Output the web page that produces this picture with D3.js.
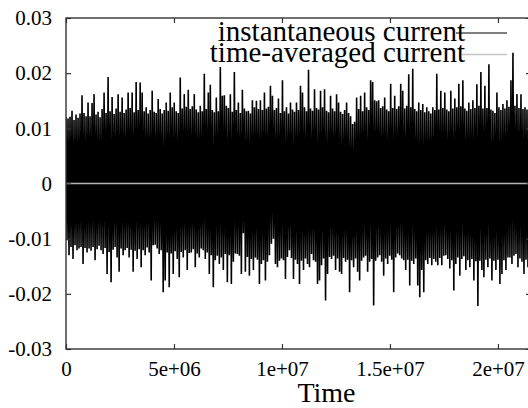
<!DOCTYPE html>
<html>
<head>
<meta charset="utf-8">
<script src="https://cdn.jsdelivr.net/npm/d3@7"></script>
<style>
  html, body { margin: 0; padding: 0; background: #fff; }
  svg { display: block; overflow: hidden; }
  svg text { font-family: "Liberation Serif", "DejaVu Serif", serif; fill: #000; }
</style>
</head>
<body>
<div id="chart"></div>
<script>
// Instantaneous current: upper and lower swing of each sample
var currentHigh = [
  0.0120, 0.0118, 0.0121, 0.0132, 0.0115, 0.0125, 0.0119, 0.0127, 0.0160, 0.0128, 0.0122, 0.0147,
  0.0122, 0.0146, 0.0162, 0.0125, 0.0130, 0.0120, 0.0135, 0.0165, 0.0128, 0.0193, 0.0131, 0.0157,
  0.0126, 0.0136, 0.0162, 0.0130, 0.0156, 0.0128, 0.0134, 0.0165, 0.0137, 0.0165, 0.0129, 0.0184,
  0.0133, 0.0183, 0.0165, 0.0131, 0.0138, 0.0127, 0.0133, 0.0168, 0.0130, 0.0128, 0.0153, 0.0135,
  0.0127, 0.0133, 0.0147, 0.0132, 0.0165, 0.0138, 0.0147, 0.0131, 0.0128, 0.0192, 0.0136, 0.0162,
  0.0139, 0.0170, 0.0135, 0.0140, 0.0162, 0.0134, 0.0129, 0.0141, 0.0131, 0.0199, 0.0135, 0.0165,
  0.0179, 0.0133, 0.0129, 0.0156, 0.0131, 0.0211, 0.0159, 0.0160, 0.0141, 0.0137, 0.0162, 0.0130,
  0.0202, 0.0133, 0.0147, 0.0128, 0.0170, 0.0136, 0.0131, 0.0132, 0.0127, 0.0151, 0.0138, 0.0150,
  0.0135, 0.0151, 0.0133, 0.0165, 0.0136, 0.0139, 0.0177, 0.0159, 0.0133, 0.0137, 0.0154, 0.0128,
  0.0187, 0.0131, 0.0138, 0.0127, 0.0147, 0.0134, 0.0130, 0.0147, 0.0133, 0.0177, 0.0165, 0.0138,
  0.0131, 0.0206, 0.0136, 0.0132, 0.0171, 0.0137, 0.0134, 0.0168, 0.0138, 0.0171, 0.0132, 0.0129,
  0.0159, 0.0136, 0.0131, 0.0162, 0.0147, 0.0130, 0.0126, 0.0133, 0.0147, 0.0128, 0.0122, 0.0108,
  0.0112, 0.0156, 0.0135, 0.0159, 0.0131, 0.0165, 0.0138, 0.0133, 0.0187, 0.0184, 0.0151, 0.0149,
  0.0151, 0.0137, 0.0140, 0.0156, 0.0134, 0.0131, 0.0181, 0.0137, 0.0159, 0.0135, 0.0140, 0.0181,
  0.0168, 0.0136, 0.0141, 0.0198, 0.0138, 0.0208, 0.0135, 0.0131, 0.0147, 0.0133, 0.0144, 0.0129,
  0.0138, 0.0131, 0.0127, 0.0138, 0.0133, 0.0199, 0.0134, 0.0168, 0.0137, 0.0165, 0.0134, 0.0131,
  0.0168, 0.0136, 0.0154, 0.0138, 0.0181, 0.0140, 0.0187, 0.0136, 0.0132, 0.0147, 0.0135, 0.0151,
  0.0137, 0.0180, 0.0141, 0.0202, 0.0136, 0.0177, 0.0137, 0.0216, 0.0134, 0.0132, 0.0128, 0.0165,
  0.0138, 0.0133, 0.0144, 0.0136, 0.0151, 0.0139, 0.0187, 0.0237, 0.0141, 0.0162, 0.0137, 0.0162,
  0.0135, 0.0138, 0.0134, 0.0137
];
var currentLow = [
  -0.0103, -0.0130, -0.0115, -0.0137, -0.0112, -0.0121, -0.0118, -0.0115, -0.0146, -0.0117, -0.0125, -0.0118,
  -0.0122, -0.0115, -0.0139, -0.0119, -0.0113, -0.0121, -0.0128, -0.0117, -0.0164, -0.0124, -0.0179, -0.0120,
  -0.0115, -0.0134, -0.0160, -0.0118, -0.0130, -0.0121, -0.0117, -0.0134, -0.0120, -0.0160, -0.0122, -0.0137,
  -0.0119, -0.0152, -0.0121, -0.0130, -0.0116, -0.0125, -0.0176, -0.0112, -0.0111, -0.0118, -0.0128, -0.0121,
  -0.0197, -0.0176, -0.0125, -0.0188, -0.0127, -0.0164, -0.0123, -0.0137, -0.0170, -0.0124, -0.0134, -0.0121,
  -0.0157, -0.0126, -0.0125, -0.0119, -0.0152, -0.0127, -0.0134, -0.0118, -0.0121, -0.0137, -0.0125, -0.0164,
  -0.0130, -0.0188, -0.0139, -0.0131, -0.0146, -0.0134, -0.0157, -0.0128, -0.0179, -0.0130, -0.0182, -0.0142,
  -0.0127, -0.0128, -0.0131, -0.0164, -0.0090, -0.0160, -0.0133, -0.0167, -0.0137, -0.0157, -0.0134, -0.0138,
  -0.0182, -0.0146, -0.0139, -0.0176, -0.0142, -0.0130, -0.0109, -0.0100, -0.0146, -0.0152, -0.0140, -0.0136,
  -0.0139, -0.0173, -0.0133, -0.0121, -0.0135, -0.0173, -0.0138, -0.0146, -0.0182, -0.0140, -0.0157, -0.0136,
  -0.0146, -0.0152, -0.0128, -0.0139, -0.0142, -0.0182, -0.0176, -0.0148, -0.0136, -0.0212, -0.0164, -0.0133,
  -0.0137, -0.0131, -0.0157, -0.0136, -0.0160, -0.0164, -0.0135, -0.0142, -0.0138, -0.0197, -0.0139, -0.0152,
  -0.0136, -0.0160, -0.0176, -0.0140, -0.0134, -0.0131, -0.0160, -0.0142, -0.0137, -0.0221, -0.0140, -0.0134,
  -0.0130, -0.0142, -0.0167, -0.0136, -0.0146, -0.0131, -0.0138, -0.0197, -0.0134, -0.0127, -0.0130, -0.0136,
  -0.0139, -0.0157, -0.0138, -0.0185, -0.0140, -0.0146, -0.0136, -0.0185, -0.0206, -0.0157, -0.0197, -0.0139,
  -0.0146, -0.0135, -0.0148, -0.0137, -0.0142, -0.0148, -0.0135, -0.0148, -0.0131, -0.0130, -0.0137, -0.0154,
  -0.0139, -0.0194, -0.0146, -0.0134, -0.0167, -0.0137, -0.0132, -0.0157, -0.0139, -0.0152, -0.0137, -0.0176,
  -0.0141, -0.0222, -0.0140, -0.0157, -0.0170, -0.0138, -0.0152, -0.0136, -0.0176, -0.0140, -0.0157, -0.0138,
  -0.0182, -0.0164, -0.0139, -0.0157, -0.0134, -0.0134, -0.0146, -0.0131, -0.0128, -0.0152, -0.0136, -0.0142,
  -0.0164, -0.0138, -0.0152, -0.0157
];
// time between samples
var sampleStep = 92800;

// Time-averaged current (sits on zero the whole run)
var avgTimes = [0, 5e6, 1e7, 1.5e7, 2e7, 2.153e7];
var avgCurrent = [0, 0, 0, 0, 0, 0];

// Ticks
var xTicks = [0, 5e6, 1e7, 1.5e7, 2e7];
var xTickLabels = ["0", "5e+06", "1e+07", "1.5e+07", "2e+07"];
var yTicks = [-0.03, -0.02, -0.01, 0, 0.01, 0.02, 0.03];
var yTickLabels = ["-0.03", "-0.02", "-0.01", "0", "0.01", "0.02", "0.03"];

var seriesNames = ["instantaneous current", "time-averaged current"];

var svgWidth = 528;
var svgHeight = 408;
var margin = { top: 18, left: 66 };
var width = 465;
var height = 331;

var svg = d3.select("#chart")
  .append("svg")
  .attr("width", svgWidth)
  .attr("height", svgHeight);

var chartGroup = svg.append("g")
  .attr("transform", `translate(${margin.left}, ${margin.top})`);

var xScale = d3.scaleLinear().domain([0, 2.153e7]).range([0, width]);
var yScale = d3.scaleLinear().domain([-0.03, 0.03]).range([height, 0]);

svg.append("defs").append("clipPath")
  .attr("id", "plotClip")
  .append("rect")
  .attr("width", width)
  .attr("height", height);

// instantaneous current as a zig-zag line between the high and low swings
var tracePoints = [];
currentHigh.forEach(function(v, i) {
  tracePoints.push([i * sampleStep, v]);
  tracePoints.push([(i + 0.5) * sampleStep, currentLow[i]]);
});

var traceLine = d3.line()
  .x(d => xScale(d[0]))
  .y(d => yScale(d[1]));

chartGroup.append("path")
  .attr("clip-path", "url(#plotClip)")
  .attr("d", traceLine(tracePoints))
  .attr("fill", "none")
  .attr("stroke", "#000")
  .attr("stroke-width", 1.6)
  .attr("stroke-linejoin", "miter")
  .attr("stroke-miterlimit", 1);

// time-averaged current
var avgLine = d3.line()
  .x((d, i) => xScale(avgTimes[i]))
  .y(d => yScale(d));

chartGroup.append("path")
  .attr("d", avgLine(avgCurrent))
  .attr("fill", "none")
  .attr("stroke", "#b4b4b4")
  .attr("stroke-width", 1.6);

// axes: ticks point inward, mirrored on top and right
var leftAxis = d3.axisLeft(yScale)
  .tickValues(yTicks)
  .tickFormat((d, i) => yTickLabels[i])
  .tickSizeInner(-5).tickSizeOuter(0).tickPadding(14);
var bottomAxis = d3.axisBottom(xScale)
  .tickValues(xTicks)
  .tickFormat((d, i) => xTickLabels[i])
  .tickSizeInner(-5).tickSizeOuter(0).tickPadding(12.5);
var topAxis = d3.axisTop(xScale).tickValues(xTicks).tickFormat("").tickSizeInner(-5).tickSizeOuter(0);
var rightAxis = d3.axisRight(yScale).tickValues(yTicks).tickFormat("").tickSizeInner(-5).tickSizeOuter(0);

function styleAxis(g) {
  g.attr("font-family", null).attr("font-size", null);
  g.select(".domain").remove();
  g.selectAll(".tick line").attr("stroke", "#333").attr("stroke-width", 1.2);
  g.selectAll(".tick text")
    .style("font-size", "21px")
    .attr("fill", "#000");
}

chartGroup.append("g").call(leftAxis).call(styleAxis);
chartGroup.append("g").attr("transform", `translate(0, ${height})`).call(bottomAxis).call(styleAxis);
chartGroup.append("g").call(topAxis).call(styleAxis);
chartGroup.append("g").attr("transform", `translate(${width}, 0)`).call(rightAxis).call(styleAxis);

// plot border
chartGroup.append("rect")
  .attr("width", width)
  .attr("height", height)
  .attr("fill", "none")
  .attr("stroke", "#333")
  .attr("stroke-width", 1.4);

// axis label
svg.append("text")
  .attr("x", 326.5)
  .attr("y", 402)
  .attr("text-anchor", "middle")
  .style("font-size", "28px")
  .text("Time");

// legend
var legendRows = [
  { name: seriesNames[0], y: 40.5, lineY: 33, x1: 456, color: "#000", w: 1 },
  { name: seriesNames[1], y: 61.5, lineY: 54.5, x1: 462, color: "#c4c4c4", w: 1.6 }
];
var legend = svg.append("g");
legend.selectAll("text")
  .data(legendRows)
  .enter()
  .append("text")
  .attr("x", 465)
  .attr("y", d => d.y)
  .attr("text-anchor", "end")
  .style("font-size", "29px")
  .text(d => d.name);
legend.selectAll("line")
  .data(legendRows)
  .enter()
  .append("line")
  .attr("x1", d => d.x1)
  .attr("x2", 507)
  .attr("y1", d => d.lineY)
  .attr("y2", d => d.lineY)
  .attr("stroke", d => d.color)
  .attr("stroke-width", d => d.w);
</script>
</body>
</html>
